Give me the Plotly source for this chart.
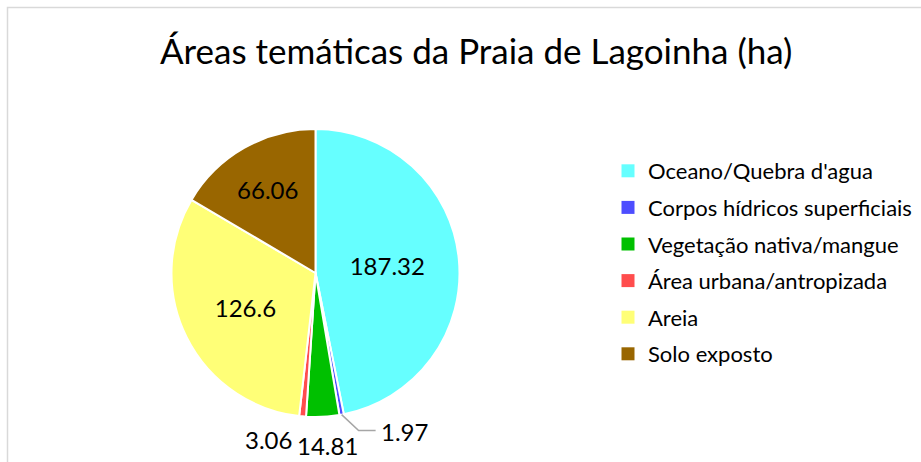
import math
import plotly.graph_objects as go

categories = ["Oceano/Quebra d'agua", "Corpos hídricos superficiais", "Vegetação nativa/mangue",
              "Área urbana/antropizada", "Areia", "Solo exposto"]
values = [187.32, 1.97, 14.81, 3.06, 126.6, 66.06]
colors = ["#66FFFF", "#4D4DFF", "#00C000", "#FF4D4D", "#FFFF77", "#996600"]
inside = [True, False, False, False, True, True]

W, H = 921, 462
cx, cy, r = 315.5, 273, 144
FONT = "Lato"

fig = go.Figure()
fig.add_trace(go.Pie(
    labels=categories, values=values, sort=False, direction="clockwise", rotation=0,
    marker=dict(colors=colors, line=dict(color="white", width=2)),
    texttemplate="%{value}", textposition=["inside" if i else "none" for i in inside],
    textfont=dict(size=24, color="black", family=FONT),
    insidetextorientation="horizontal",
    domain=dict(x=[(cx - r) / W, (cx + r) / W], y=[(H - cy - r) / H, (H - cy + r) / H]),
    hoverinfo="label+value", showlegend=False,
))

# legend entries (one per category)
for i, (c, col) in enumerate(zip(categories, colors)):
    fig.add_trace(go.Scatter(x=[None], y=[None], mode="markers", name=c, legendgroup=str(i),
                             marker=dict(symbol="square", size=13, color=col), showlegend=True))

# outside labels for small slices, positioned from the slice mid-angle
total = sum(values)
cum = 0
mids = []
for v in values:
    mids.append((cum + v / 2) / total * 2 * math.pi)
    cum += v

def px(x, y):
    return x / W, 1 - y / H

annotations = []
shapes = []
label_r = r + 29
xshifts = [0, 0, 0, -31, 0, 0]
yshifts = [0, 0, 0, 6, 0, 0]
for i, v in enumerate(values):
    if inside[i]:
        continue
    th = mids[i]
    if i == 1:
        # leader line from slice edge
        ex, ey = cx + r * math.sin(th), cy - r * math.cos(th)
        kx, ky = ex + 17, ey + 16
        shapes.append(dict(type="path", xref="paper", yref="paper",
                           path="M {} {} L {} {} L {} {}".format(*px(ex, ey), *px(kx, ky), *px(kx + 17, ky)),
                           line=dict(color="#A6A6A6", width=1.5)))
        lx, ly = kx + 20, ky + 1
        annotations.append(dict(x=lx / W, y=1 - ly / H, xref="paper", yref="paper", text=str(v),
                                showarrow=False, xanchor="left", yanchor="middle",
                                font=dict(size=24, color="black", family=FONT)))
    else:
        lx, ly = cx + label_r * math.sin(th), cy - label_r * math.cos(th)
        annotations.append(dict(x=lx / W, y=1 - ly / H, xref="paper", yref="paper", text=str(v),
                                showarrow=False, xanchor="center", yanchor="middle",
                                xshift=xshifts[i] + (3 if i == 2 else 0), yshift=yshifts[i],
                                font=dict(size=24, color="black", family=FONT)))

shapes.append(dict(type="rect", xref="paper", yref="paper", x0=7.5 / W, x1=1.02, y0=-0.02, y1=1 - 7.5 / H,
                   line=dict(color="#D9D9D9", width=1.5), fillcolor="rgba(0,0,0,0)", layer="below"))

fig.update_layout(
    width=W, height=H, margin=dict(l=0, r=0, t=0, b=0),
    paper_bgcolor="white", plot_bgcolor="white",
    font=dict(family=FONT, color="black"),
    xaxis=dict(visible=False), yaxis=dict(visible=False),
    title=dict(text="Áreas temáticas da Praia de Lagoinha (ha)", x=0.517, xanchor="center",
               y=1 - 52 / H, yanchor="middle", font=dict(size=35, color="black", family=FONT)),
    legend=dict(x=608 / W, y=1 - 150 / H, xanchor="left", yanchor="top", tracegroupgap=5,
                font=dict(size=22, color="black", family=FONT), bgcolor="rgba(0,0,0,0)"),
    shapes=shapes, annotations=annotations,
)

fig.write_html("out.html", config={"displayModeBar": False},
               post_script="document.body.style.margin='0';")
